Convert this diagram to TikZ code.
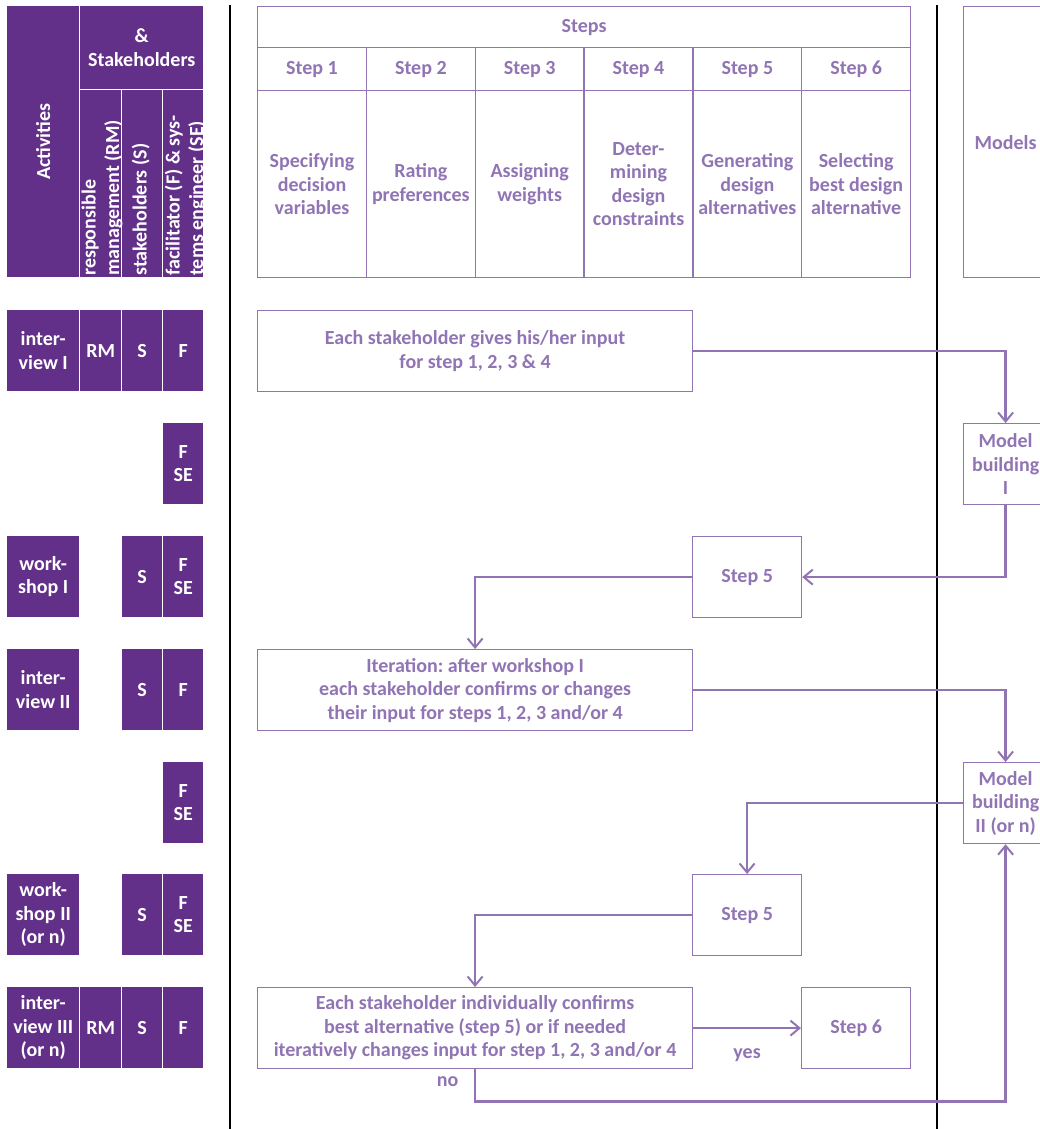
\documentclass[tikz,border=0pt]{standalone}
\usepackage{fontspec}
\setmainfont{Carlito}
\frenchspacing
\usetikzlibrary{positioning, arrows.meta}
\definecolor{dpurple}{RGB}{98,48,136}
\definecolor{lpurple}{RGB}{144,116,180}

\begin{document}
\begin{tikzpicture}[x=1pt, y=-1pt, font=\bfseries\fontsize{20}{23.5}\selectfont,
       >={Straight Barb[length=9pt, width=15pt, line width=2pt]},
       dark/.style={fill=dpurple, text=white, align=center, inner sep=0pt, anchor=north west},
       cell/.style={draw=lpurple, line width=1.2pt, text=lpurple, align=center,
                    inner sep=0pt, anchor=north west},
       conn/.style={draw=lpurple, line width=2.6pt},
       lbl/.style={text=lpurple},
       sep/.style={draw=black, line width=1.3pt}]
     \useasboundingbox (0,0) rectangle (1039,1129);
     \draw[sep] (230,5) -- (230,1129);
     \draw[sep] (937,5) -- (937,1129);
     % header, left
     \node[dark, minimum width=72pt, minimum height=271pt] (act) at (7,6) {\rotatebox{90}{Activities}};
     \node[dark, minimum width=123pt, minimum height=83pt] (stk) at (80,6) {\&\\Stakeholders};
     \node[dark, minimum width=41pt, minimum height=187pt] (rmh) at (80,90) {};
     \node[dark, minimum width=40pt, minimum height=187pt] (sh) at (122,90) {};
     \node[dark, minimum width=40pt, minimum height=187pt] (fh) at (163,90) {};
     \node[text=white, align=left, inner sep=1.5pt, rotate=90, anchor=north west] (rmt) at (rmh.south west) {responsible\\management (RM)};
     \node[text=white, align=left, inner sep=1.5pt, rotate=90, anchor=north west, yshift=-8pt] (st) at (sh.south west) {stakeholders (S)};
     \node[text=white, align=left, inner sep=1.5pt, rotate=90, anchor=north west] (ft) at (fh.south west) {facilitator (F) \& sys-\\tems engineer (SE)};
     % header, steps
     \node[cell, minimum width=653pt, minimum height=41pt] (steps) at (257,6) {Steps};
     \foreach \i/\txt in {1/{Specifying\\decision\\variables}, 2/{Rating\\preferences},
                          3/{Assigning\\weights}, 4/{Deter-\\mining\\design\\constraints},
                          5/{Generating\\design\\alternatives}, 6/{Selecting\\best design\\alternative}} {
       \pgfmathsetmacro\xc{257+(\i-1)*108.83}
       \node[cell, minimum width=108.83pt, minimum height=43pt] (n\i) at (\xc,47) {Step \i};
       \node[cell, minimum width=108.83pt, minimum height=187pt] (d\i) at (\xc,90) {\txt};
     }
     \node[cell, minimum width=84pt, minimum height=271pt] (mods) at (963,6) {Models};
     % activities
     \node[dark, minimum width=72pt, minimum height=81pt] (a1) at (7,310) {inter-\\view I};
     \node[dark, minimum width=41pt, minimum height=81pt] (rm1) at (80,310) {RM};
     \node[dark, minimum width=40pt, minimum height=81pt] (s1) at (122,310) {S};
     \node[dark, minimum width=40pt, minimum height=81pt] (f1) at (163,310) {F};
     \node[dark, minimum width=40pt, minimum height=81pt] (f2) at (163,423) {F\\SE};
     \node[dark, minimum width=72pt, minimum height=81pt] (a3) at (7,536) {work-\\shop I};
     \node[dark, minimum width=40pt, minimum height=81pt] (s3) at (122,536) {S};
     \node[dark, minimum width=40pt, minimum height=81pt] (f3) at (163,536) {F\\SE};
     \node[dark, minimum width=72pt, minimum height=81pt] (a4) at (7,649) {inter-\\view II};
     \node[dark, minimum width=40pt, minimum height=81pt] (s4) at (122,649) {S};
     \node[dark, minimum width=40pt, minimum height=81pt] (f4) at (163,649) {F};
     \node[dark, minimum width=40pt, minimum height=81pt] (f5) at (163,762) {F\\SE};
     \node[dark, minimum width=72pt, minimum height=81pt] (a6) at (7,874) {work-\\shop II\\(or n)};
     \node[dark, minimum width=40pt, minimum height=81pt] (s6) at (122,874) {S};
     \node[dark, minimum width=40pt, minimum height=81pt] (f6) at (163,874) {F\\SE};
     \node[dark, minimum width=72pt, minimum height=81pt] (a7) at (7,987) {inter-\\view III\\(or n)};
     \node[dark, minimum width=41pt, minimum height=81pt] (rm7) at (80,987) {RM};
     \node[dark, minimum width=40pt, minimum height=81pt] (s7) at (122,987) {S};
     \node[dark, minimum width=40pt, minimum height=81pt] (f7) at (163,987) {F};
     % flow
     \node[cell, minimum width=435pt, minimum height=81pt] (in1) at (257,310) {Each stakeholder gives his/her input\\for step 1, 2, 3 \& 4};
     \node[cell, minimum width=84pt, minimum height=81pt] (mb1) at (963,423) {Model\\building\\I};
     \node[cell, minimum width=109pt, minimum height=81pt] (s5a) at (692,536) {Step 5};
     \node[cell, minimum width=435pt, minimum height=81pt] (iter) at (257,649) {Iteration: after workshop I\\each stakeholder confirms or changes\\their input for steps 1, 2, 3 and/or 4};
     \node[cell, minimum width=84pt, minimum height=81pt] (mb2) at (963,762) {Model\\building\\II (or n)};
     \node[cell, minimum width=109pt, minimum height=81pt] (s5b) at (692,874) {Step 5};
     \node[cell, minimum width=435pt, minimum height=81pt] (fin) at (257,987) {Each stakeholder individually confirms\\best alternative (step 5) or if needed\\iteratively changes input for step 1, 2, 3 and/or 4};
     \node[cell, minimum width=109pt, minimum height=81pt] (s6b) at (801,987) {Step 6};
     \draw[conn, ->] (in1.east) -| (mb1.north);
     \draw[conn, ->] (mb1.south) |- (s5a.east);
     \draw[conn, ->] (s5a.west) -| (iter.north);
     \draw[conn, ->] (iter.east) -| (mb2.north);
     \draw[conn, ->] (mb2.west) -| (s5b.north);
     \draw[conn, ->] (s5b.west) -| (fin.north);
     \draw[conn, ->] (fin.east) -- node[lbl, midway, below=16pt] (yes) {yes} (s6b.west);
     \draw[conn, ->] (fin.south) -- node[lbl, pos=0.4, left=12pt] (no) {no} ++(0,32) -| (mb2.south);
   \end{tikzpicture}
\end{document}
